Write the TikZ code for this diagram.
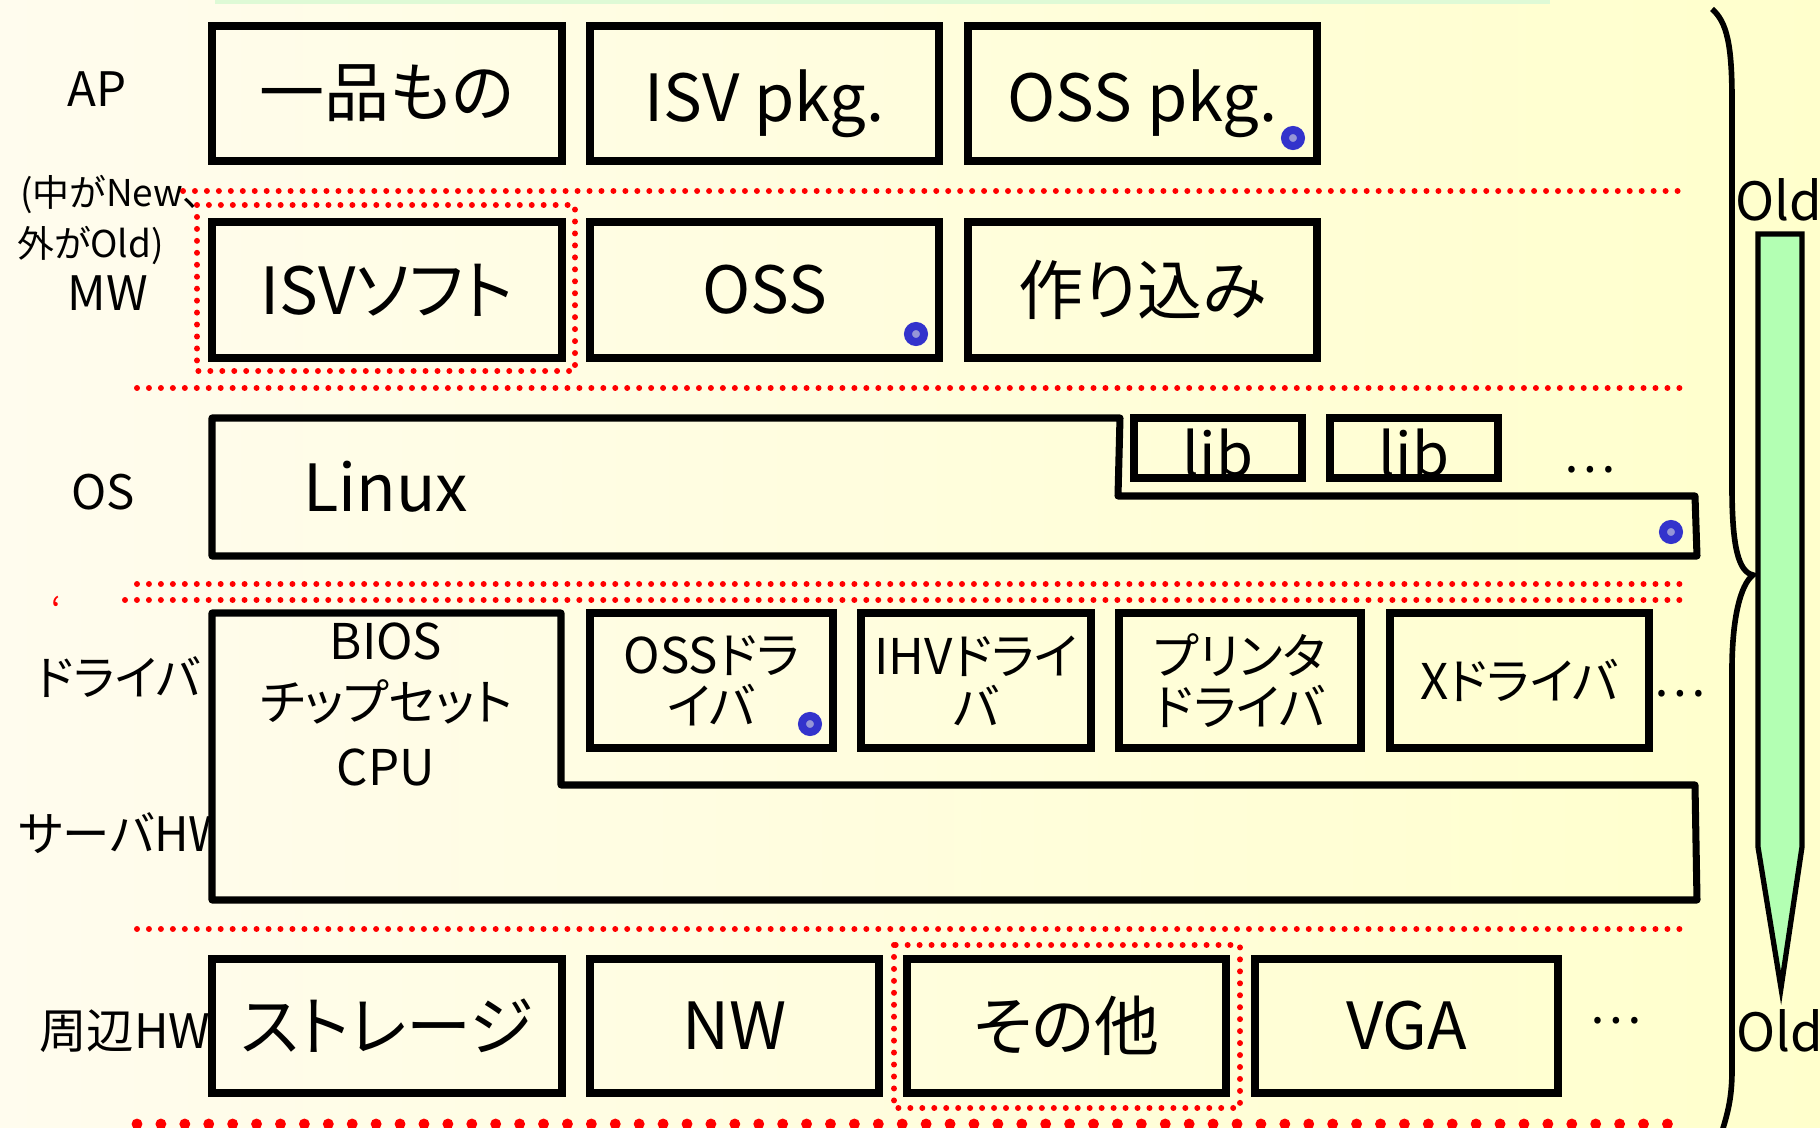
\documentclass[tikz,border=0pt]{standalone}
\usepackage{fontspec}
\setmainfont{Noto Sans CJK JP}[RawFeature={+palt}]
\definecolor{bgleft}{RGB}{255,252,238}
\definecolor{bgright}{RGB}{255,255,204}
\definecolor{srvleft}{RGB}{255,252,234}
\definecolor{srvright}{RGB}{255,255,206}
\definecolor{sepred}{RGB}{255,0,0}
\definecolor{oldgreen}{RGB}{179,255,179}
\definecolor{topgreen}{RGB}{222,250,214}
\definecolor{dotblue}{RGB}{51,51,204}
\definecolor{dotlight}{RGB}{150,150,215}
\begin{document}
\begin{tikzpicture}[x=0.01cm, y=-0.01cm,
    box/.style={draw, line width=2pt},
    sep/.style={sepred, line width=1.7pt, line cap=round, dash pattern=on 0pt off 3.4pt},
    bigsep/.style={sepred, line width=3.1pt, line cap=round, dash pattern=on 0pt off 6.8pt},
    big/.style={font=\fontsize{18.5}{22}\selectfont},
    mid/.style={font=\fontsize{14}{14.5}\selectfont, align=center},
    lbl/.style={font=\fontsize{13.5}{16}\selectfont},
    note/.style={font=\fontsize{10.5}{13}\selectfont, anchor=west},
    oldlbl/.style={font=\fontsize{15}{18}\selectfont},
    ossdot/.style={circle, draw=dotblue, line width=0.08cm, fill=dotlight,
        inner sep=0pt, minimum size=0.16cm}]
    \def\apT{26}  \def\apB{161}
    \def\mwT{222} \def\mwB{358}
    \def\drT{613} \def\drB{748}
    \def\phT{959} \def\phB{1093}
    % background
    \useasboundingbox (0,0) rectangle (1820,1128);
    \shade[left color=bgleft, right color=bgright] (0,0) rectangle (1820,1128);
    \draw[topgreen, line width=1.2pt] (215,1.5) -- (1550,1.5);
    % layer separators
    \draw[sep] (183,191) -- (1689,191);
    \draw[sep] (137,388) -- (1689,388);
    \draw[sep] (137,584) -- (1689,584);
    \draw[sep] (125,600) -- (1683,600);
    \draw[sep] (137,929) -- (1689,929);
    \draw[bigsep] (137,1124) -- (1677,1124);
    \draw[sep] (197,205) rectangle (575,371);
    \draw[sep] (894,945) rectangle (1240,1108);
    % layer names
    \node[lbl] (lap) at (97,89) {AP};
    \node[note] (lnew) at (8,195) {(中がNew、};
    \node[note] (lold) at (5,246) {外がOld)};
    \node[lbl] (lmw) at (108,293) {MW};
    \node[lbl] (los) at (103,492) {OS};
    \node[red, font=\fontsize{10}{12}\selectfont] (lmark) at (56,610) {‘};
    \node[lbl, anchor=west] (ldrv) at (24,677) {ドライバ};
    \node[lbl, anchor=west] (lsrv) at (6,833) {サーバHW};
    \node[lbl] (lper) at (125,1031) {周辺HW};
    % AP
    \draw[box] (212,\apT) rectangle (562,\apB) node[midway, big] (ichi) {一品もの};
    \draw[box] (590,\apT) rectangle (939,\apB) node[midway, big, yshift=-3pt] (isvpkg) {ISV pkg.};
    \draw[box] (968,\apT) rectangle (1317,\apB) node[midway, big, yshift=-3pt] (osspkg) {OSS pkg.};
    % MW
    \draw[box] (212,\mwT) rectangle (562,\mwB) node[midway, big] (isvsoft) {ISVソフト};
    \draw[box] (590,\mwT) rectangle (939,\mwB) node[midway, big] (oss) {OSS};
    \draw[box] (968,\mwT) rectangle (1317,\mwB) node[midway, big] (tsukuri) {作り込み};
    % OS
    \draw[box, line join=round] (212,418) -- (1120,418) -- (1118,496) -- (1695,496)
        -- (1697,556) -- (212,556) -- cycle;
    \node[big] (linux) at (386,487) {Linux};
    \draw[box] (1134,418) rectangle (1302,478)
        node[midway, font=\fontsize{17}{20}\selectfont, yshift=-1.5pt] (libA) {lib};
    \draw[box] (1330,418) rectangle (1498,478)
        node[midway, font=\fontsize{17}{20}\selectfont, yshift=-1.5pt] (libB) {lib};
    \node[mid] (osmore) at (1590,470) {…};
    % driver / server HW
    \draw[box, line join=round, left color=srvleft, right color=srvright]
        (212,\drT) -- (561,\drT) -- (561,785) -- (1695,785) -- (1697,900) -- (212,900) -- cycle;
    \node[mid] (bios) at (386,641) {BIOS};
    \node[mid] (chip) at (386,702) {チップセット};
    \node[mid] (cpu) at (386,767) {CPU};
    \draw[box] (590,\drT) rectangle (833,\drB) node[midway, mid] (ossdrv) {OSSドラ\\イバ};
    \draw[box] (861,\drT) rectangle (1091,\drB) node[midway, mid] (ihvdrv) {IHVドライ\\バ};
    \draw[box] (1119,\drT) rectangle (1361,\drB) node[midway, mid] (prndrv) {プリンタ\\ドライバ};
    \draw[box] (1390,\drT) rectangle (1649,\drB) node[midway, mid] (xdrv) {Xドライバ};
    \node[mid] (drvmore) at (1680,694) {…};
    % peripheral HW
    \draw[box] (212,\phT) rectangle (562,\phB) node[midway, big] (storage) {ストレージ};
    \draw[box] (590,\phT) rectangle (879,\phB) node[midway, big] (nw) {NW};
    \draw[box] (907,\phT) rectangle (1226,\phB) node[midway, big] (other) {その他};
    \draw[box] (1255,\phT) rectangle (1558,\phB) node[midway, big] (vga) {VGA};
    \node[mid] (phmore) at (1616,1021) {…};
    % OSS marks
    \node[ossdot] (dotpkg) at (1293,138) {};
    \node[ossdot] (dotmw) at (916,334) {};
    \node[ossdot] (dotos) at (1671,532) {};
    \node[ossdot] (dotdrv) at (810,724) {};
    % brace and Old arrow
    \draw[line width=1.6pt] (1712,9) .. controls (1727,22) and (1732,45) .. (1732,100)
        -- (1732,487) .. controls (1732,545) and (1738,572) .. (1753,575)
        .. controls (1740,585) and (1732,620) .. (1732,670)
        -- (1732,1070) .. controls (1732,1100) and (1727,1115) .. (1721,1135);
    \draw[line width=1.5pt, fill=oldgreen] (1758,234) -- (1802,234) -- (1802,847)
        -- (1781,988) -- (1758,847) -- cycle;
    \node[oldlbl] (oldtop) at (1779,200) {Old};
    \node[oldlbl] (oldbot) at (1780,1031) {Old};
\end{tikzpicture}
\end{document}
